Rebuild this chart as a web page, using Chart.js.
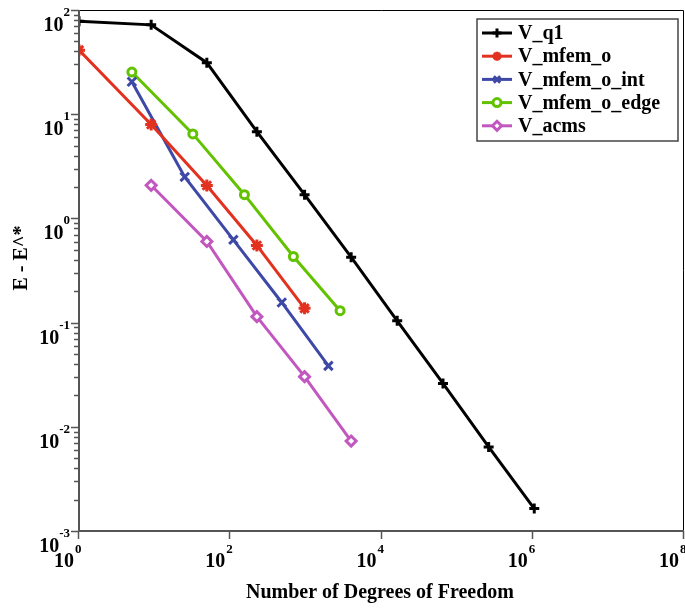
<!DOCTYPE html>
<html>
<head>
<meta charset="utf-8">
<script src="https://cdn.jsdelivr.net/npm/chart.js@4/dist/chart.umd.min.js"></script>
<style>
  html, body { margin: 0; padding: 0; background: #fff; overflow: hidden; }
  #wrap { width: 685px; height: 608px; }
  canvas { display: block; }
</style>
</head>
<body>
<div id="wrap"><canvas id="chart" width="685" height="608"></canvas></div>
<script>
// data (log-log convergence plot)
const seriesNames = ['V_q1', 'V_mfem_o', 'V_mfem_o_int', 'V_mfem_o_edge', 'V_acms'];

const dofQ1 = [1, 9, 49, 225, 961, 3969, 16129, 65025, 261121, 1046529];
const errQ1 = [78, 72, 31.2, 6.8, 1.69, 0.424, 0.104, 0.0261, 0.0064, 0.00164];

const dofMfemO = [1, 9, 49, 225, 961];
const errMfemO = [41.2, 7.96, 2.07, 0.55, 0.137];

const dofMfemOInt = [5, 25, 110, 480, 1985];
const errMfemOInt = [20.5, 2.5, 0.623, 0.156, 0.0384];

const dofMfemOEdge = [5, 32, 154, 684, 2833];
const errMfemOEdge = [25.4, 6.47, 1.69, 0.431, 0.130];

const dofAcms = [9, 49, 225, 961, 3969];
const errAcms = [2.08, 0.601, 0.114, 0.0303, 0.0073];

// axis decades
const xDecades = [0, 2, 4, 6, 8];
const yDecades = [-3, -2, -1, 0, 1, 2];

const SERIF = '"Liberation Serif", "Times New Roman", serif';

const colors = {
    black: '#000000',
    red: '#e2311f',
    blue: '#3e48a6',
    green: '#62c200',
    magenta: '#c257c0'
};

function pairs(xs, ys) {
    return xs.map((x, i) => ({ x: x, y: ys[i] }));
}

function makeSet(label, xs, ys, color, style, radius, fill) {
    return {
        label: label,
        data: pairs(xs, ys),
        borderColor: color,
        backgroundColor: fill || color,
        borderWidth: 3,
        pointStyle: style,
        pointRadius: radius,
        pointBorderWidth: 3,
        pointBorderColor: color,
        pointBackgroundColor: fill || color,
        tension: 0,
        fill: false
    };
}

const datasets = [
    makeSet(seriesNames[0], dofQ1, errQ1, colors.black, 'cross', 5),
    makeSet(seriesNames[1], dofMfemO, errMfemO, colors.red, 'star', 6),
    makeSet(seriesNames[2], dofMfemOInt, errMfemOInt, colors.blue, 'crossRot', 6),
    makeSet(seriesNames[3], dofMfemOEdge, errMfemOEdge, colors.green, 'circle', 4, '#ffffff'),
    makeSet(seriesNames[4], dofAcms, errAcms, colors.magenta, 'rectRot', 5, '#ffffff')
];

// pin the plot area to the reference frame: x 79..684, y 10..531
const PLOT = { left: 79, top: 10, right: 684, bottom: 531 };

// axes, tick labels with superscripts, titles and the boxed legend
const decorPlugin = {
    id: 'decor',
    afterDraw(chart) {
        const ctx = chart.ctx;
        const area = chart.chartArea;
        const xs = chart.scales.x;
        const ys = chart.scales.y;
        ctx.save();

        // frame: top/right thin black, left/bottom grey axes
        ctx.strokeStyle = '#000';
        ctx.lineWidth = 1;
        ctx.beginPath();
        ctx.moveTo(area.left, area.top + 0.5);
        ctx.lineTo(area.right - 0.5, area.top + 0.5);
        ctx.lineTo(area.right - 0.5, area.bottom);
        ctx.stroke();

        ctx.strokeStyle = '#555';
        ctx.lineWidth = 2;
        ctx.beginPath();
        ctx.moveTo(area.left, area.top);
        ctx.lineTo(area.left, area.bottom);
        ctx.lineTo(area.right, area.bottom);
        ctx.stroke();

        // y ticks (major + minor, outside)
        ctx.lineWidth = 1.5;
        yDecades.forEach(e => {
            for (let m = 1; m <= 9; m++) {
                if (e === 2 && m > 1) break;
                const py = Math.round(ys.getPixelForValue(m * Math.pow(10, e))) + 0.5;
                const len = m === 1 ? 8 : 5;
                ctx.beginPath();
                ctx.moveTo(area.left - len, py);
                ctx.lineTo(area.left, py);
                ctx.stroke();
            }
        });

        // x ticks
        xDecades.forEach(e => {
            const px = Math.round(xs.getPixelForValue(Math.pow(10, e))) - 0.5;
            ctx.beginPath();
            ctx.moveTo(px, area.bottom);
            ctx.lineTo(px, area.bottom + 8);
            ctx.stroke();
        });

        ctx.fillStyle = '#000';
        const bigFont = 'bold 20px ' + SERIF;
        const supFont = 'bold 13px ' + SERIF;

        // y tick labels: "10" with exponent, right-aligned at x = 70
        ctx.textBaseline = 'alphabetic';
        yDecades.forEach(e => {
            const py = ys.getPixelForValue(Math.pow(10, e));
            const exp = String(e);
            ctx.font = supFont;
            ctx.textAlign = 'right';
            const supW = ctx.measureText(exp).width;
            ctx.fillText(exp, 70, py + 6);
            ctx.font = bigFont;
            ctx.fillText('10', 70 - supW, py + 21);
        });

        // x tick labels
        xDecades.forEach(e => {
            const px = xs.getPixelForValue(Math.pow(10, e));
            ctx.font = bigFont;
            ctx.textAlign = 'right';
            ctx.fillText('10', px - 5, area.bottom + 36);
            ctx.font = supFont;
            ctx.textAlign = 'left';
            ctx.fillText(String(e), px - 4, area.bottom + 22);
        });

        // axis titles
        ctx.font = 'bold 20px ' + SERIF;
        ctx.textAlign = 'center';
        ctx.fillText('Number of Degrees of Freedom', 380, 598);

        ctx.save();
        ctx.translate(27, 258);
        ctx.rotate(-Math.PI / 2);
        ctx.fillText('E - E^*', 0, 0);
        ctx.restore();

        // legend box
        const lx = 477, ly = 19, lw = 201, lh = 122;
        ctx.fillStyle = '#fff';
        ctx.fillRect(lx, ly, lw, lh);
        ctx.strokeStyle = '#444';
        ctx.lineWidth = 1.5;
        ctx.strokeRect(lx, ly, lw, lh);

        chart.data.datasets.forEach((ds, i) => {
            const cy = 33 + i * 23.2;
            ctx.strokeStyle = ds.borderColor;
            ctx.lineWidth = 3;
            ctx.beginPath();
            ctx.moveTo(482, cy);
            ctx.lineTo(512, cy);
            ctx.stroke();
            ctx.fillStyle = ds.pointBackgroundColor;
            ctx.strokeStyle = ds.pointBorderColor;
            ctx.lineWidth = 3;
            Chart.helpers.drawPoint(ctx, {
                pointStyle: ds.pointStyle,
                rotation: 0,
                radius: Math.min(ds.pointRadius, 4.5),
                borderWidth: 3
            }, 497, cy);
            ctx.fillStyle = '#000';
            ctx.font = 'bold 20px ' + SERIF;
            ctx.textAlign = 'left';
            ctx.textBaseline = 'middle';
            ctx.fillText(ds.label, 518, cy + 1);
        });

        ctx.restore();
    }
};

new Chart(document.getElementById('chart'), {
    type: 'line',
    data: { datasets: datasets },
    options: {
        responsive: false,
        animation: false,
        devicePixelRatio: 1,
        layout: {
            autoPadding: false,
            padding: { top: PLOT.top, right: 685 - PLOT.right, left: 0, bottom: 0 }
        },
        scales: {
            x: {
                type: 'logarithmic',
                min: 1,
                max: 1e8,
                grid: { display: false, drawTicks: false },
                border: { display: false },
                ticks: { display: false },
                afterFit(scale) {
                    scale.height = 608 - PLOT.bottom;
                    scale.paddingLeft = 0;
                    scale.paddingRight = 0;
                }
            },
            y: {
                type: 'logarithmic',
                min: 1e-3,
                max: 100,
                grid: { display: false, drawTicks: false },
                border: { display: false },
                ticks: { display: false },
                afterFit(scale) {
                    scale.width = PLOT.left;
                    scale.paddingTop = 0;
                    scale.paddingBottom = 0;
                }
            }
        },
        plugins: {
            legend: { display: false },
            tooltip: { enabled: false }
        }
    },
    plugins: [decorPlugin]
});
</script>
</body>
</html>
